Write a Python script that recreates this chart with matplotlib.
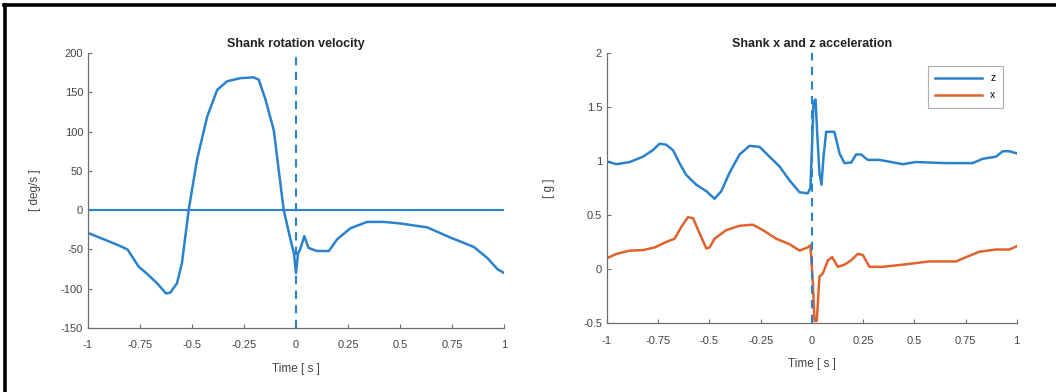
import matplotlib.pyplot as plt
from matplotlib.lines import Line2D

plt.rcParams['font.family'] = ['Liberation Sans', 'DejaVu Sans']
plt.rcParams['axes.unicode_minus'] = False

# shank angular velocity around impact (deg/s)
t_gyro = [-1.0, -0.86, -0.81, -0.756, -0.716, -0.668, -0.625, -0.604, -0.572, -0.548,
          -0.516, -0.476, -0.427, -0.379, -0.331, -0.267, -0.203, -0.179, -0.147, -0.107,
          -0.059, -0.026, -0.010, 0.0, 0.010, 0.02, 0.04, 0.06, 0.10, 0.158,
          0.198, 0.262, 0.342, 0.423, 0.503, 0.631, 0.743, 0.856, 0.92, 0.968, 1.0]
gyro = [-29, -44, -50, -72, -81, -93, -106, -105, -93, -67,
        0, 64, 119, 153, 164, 168, 169, 166, 141, 102,
        0, -38, -55, -80, -55, -50, -33, -48, -52, -52,
        -37, -23, -15, -15, -17, -22, -35, -47, -61, -75, -80]

# shank z acceleration (g)
t_accz = [-1.0, -0.954, -0.889, -0.824, -0.776, -0.743, -0.711, -0.678, -0.646, -0.613,
          -0.564, -0.515, -0.475, -0.442, -0.402, -0.353, -0.304, -0.255, -0.207, -0.158,
          -0.109, -0.060, -0.020, -0.007, 0.002, 0.008, 0.018, 0.026, 0.037, 0.047,
          0.057, 0.07, 0.094, 0.11, 0.135, 0.159, 0.192, 0.216, 0.24, 0.273,
          0.33, 0.444, 0.509, 0.655, 0.785, 0.834, 0.899, 0.932, 0.964, 1.0]
acc_z = [0.995, 0.97, 0.99, 1.04, 1.10, 1.16, 1.15, 1.10, 0.98, 0.87,
         0.78, 0.72, 0.65, 0.72, 0.89, 1.06, 1.14, 1.13, 1.04, 0.95,
         0.82, 0.71, 0.70, 0.75, 1.20, 1.54, 1.57, 1.26, 0.89, 0.78,
         1.04, 1.27, 1.27, 1.27, 1.07, 0.98, 0.985, 1.06, 1.06, 1.01,
         1.01, 0.97, 0.99, 0.98, 0.98, 1.02, 1.04, 1.09, 1.09, 1.07]

# shank x acceleration (g)
t_accx = [-1.0, -0.954, -0.889, -0.824, -0.767, -0.711, -0.67, -0.637, -0.605, -0.58,
          -0.548, -0.515, -0.499, -0.475, -0.418, -0.353, -0.288, -0.239, -0.174, -0.109,
          -0.06, -0.02, -0.007, 0.005, 0.013, 0.024, 0.037, 0.054, 0.078, 0.099,
          0.127, 0.159, 0.192, 0.224, 0.249, 0.281, 0.346, 0.444, 0.574, 0.704,
          0.753, 0.818, 0.899, 0.964, 1.0]
acc_x = [0.10, 0.14, 0.17, 0.175, 0.20, 0.25, 0.28, 0.39, 0.48, 0.47,
         0.33, 0.19, 0.20, 0.28, 0.36, 0.40, 0.41, 0.36, 0.28, 0.23,
         0.17, 0.20, 0.22, -0.13, -0.48, -0.48, -0.07, -0.04, 0.08, 0.11,
         0.02, 0.04, 0.08, 0.14, 0.13, 0.02, 0.02, 0.04, 0.07, 0.07,
         0.11, 0.16, 0.18, 0.18, 0.21]

time_ticks = [-1, -0.75, -0.5, -0.25, 0, 0.25, 0.5, 0.75, 1]
time_labels = ['-1', '-0.75', '-0.5', '-0.25', '0', '0.25', '0.5', '0.75', '1']

blue = '#2a82cc'
orange = '#e0622e'
axis_gray = '#6e6e6e'


def matlab_axes(ax):
    for side in ['top', 'right']:
        ax.spines[side].set_visible(False)
    for side in ['left', 'bottom']:
        ax.spines[side].set_color(axis_gray)
        ax.spines[side].set_linewidth(0.9)
    ax.tick_params(direction='in', length=3, width=0.8, colors=axis_gray,
                   labelcolor='#444444', labelsize=8)
    ax.tick_params(axis='x', pad=9)
    ax.set_xlim(-1, 1)
    ax.set_xticks(time_ticks)
    ax.set_xticklabels(time_labels)
    ax.set_xlabel('Time [ s ]', fontsize=8.5, color='#444444', labelpad=9)


fig = plt.figure(figsize=(10.56, 3.92), dpi=100)

# rotation velocity
ax1 = fig.add_axes([0.0833, 0.1633, 0.394, 0.7015])
ax1.plot(t_gyro, gyro, color=blue, lw=1.8)
ax1.plot([-1, 1], [0, 0], color=blue, lw=1.5)
ax1.plot([0, 0], [-150, 200], color=blue, lw=1.5, ls='--', dashes=(4, 3))
ax1.set_ylim(-150, 200)
ax1.set_yticks(range(-150, 201, 50))
matlab_axes(ax1)
ax1.set_ylabel('[ deg/s ]', fontsize=8.5, color='#444444', labelpad=14)
ax1.set_title('Shank rotation velocity', fontsize=9, fontweight='bold',
              color='#222222', pad=4)

# x and z acceleration
ax2 = fig.add_axes([0.5748, 0.176, 0.388, 0.689])
ax2.plot(t_accz, acc_z, color=blue, lw=1.8, label='z')
ax2.plot(t_accx, acc_x, color=orange, lw=1.8, label='x')
ax2.plot([0, 0], [-0.5, 2], color=blue, lw=1.5, ls='--', dashes=(4, 3))
ax2.set_ylim(-0.5, 2)
ax2.set_yticks([-0.5, 0, 0.5, 1, 1.5, 2])
ax2.set_yticklabels(['-0.5', '0', '0.5', '1', '1.5', '2'])
matlab_axes(ax2)
ax2.set_ylabel('[ g ]', fontsize=8.5, color='#444444', labelpad=20)
ax2.set_title('Shank x and z acceleration', fontsize=9, fontweight='bold',
              color='#222222', pad=4)
leg = ax2.legend(loc='upper right', fontsize=7.5, frameon=True, fancybox=False,
                 handlelength=4.5, borderpad=0.7, labelspacing=0.7,
                 borderaxespad=0, bbox_to_anchor=(0.966, 0.952))
leg.get_frame().set_edgecolor('#9a9a9a')
leg.get_frame().set_linewidth(0.8)

# black frame on the top and left edges
fig.add_artist(Line2D([0.004, 1.0], [0.988, 0.988], color='black', lw=2.6,
                      transform=fig.transFigure))
fig.add_artist(Line2D([0.0047, 0.0047], [0.0, 0.988], color='black', lw=2.6,
                      transform=fig.transFigure))

fig.savefig('out.png', dpi=100)
